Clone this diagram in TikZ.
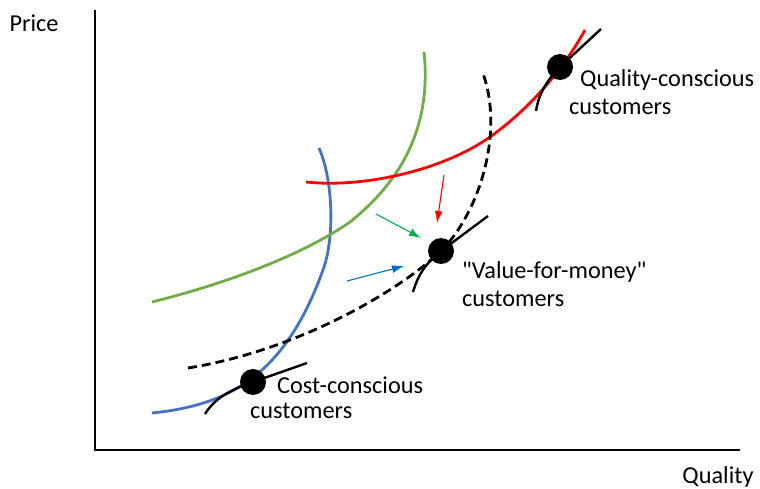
\documentclass[tikz,border=0pt]{standalone}
\usepackage{fontspec}
\setmainfont{Carlito}[Ligatures=TeXOff]
\usetikzlibrary{arrows.meta}
\definecolor{curveblue}{RGB}{68,114,196}
\definecolor{curvegreen}{RGB}{112,173,71}
\definecolor{arrowgreen}{RGB}{0,176,80}
\definecolor{arrowblue}{RGB}{0,112,192}

\begin{document}
\begin{tikzpicture}[x=1pt, y=-1pt, font=\fontsize{24.3}{28}\selectfont, >={Latex[length=12pt,width=8pt]},
  curve/.style={line width=2.8pt},
  touch/.style={black, line width=2.4pt},
  shiftarrow/.style={line width=1.1pt, ->}]
  \useasboundingbox (0,0) rectangle (760,489);
  % axes
  \draw[line width=1.6pt] (95,10) -- (95,450) -- (740,450);
  \node[inner sep=0pt] (price) at (34,23) {Price};
  \node[inner sep=0pt] (quality) at (718,477) {Quality};
  % points on the black curve
  \coordinate (cost) at (253,382);
  \coordinate (value) at (441,251);
  \coordinate (qual) at (560,67);
  % the three segment curves and the dashed one
  \draw[curve, curveblue] (152,413) .. controls (230,405) and (285,375) .. (323,270)
    .. controls (335,237) and (333,180) .. (319,148);
  \draw[curve, curvegreen] (152,302) .. controls (240,280) and (310,250) .. (350,222)
    .. controls (415,170) and (430,110) .. (424,52);
  \draw[curve, red] (306,182) .. controls (360,188) and (440,172) .. (490,137)
    .. controls (525,112) and (560,75) .. (585,30);
  \draw[curve, black, dash pattern=on 9pt off 5pt] (188,368) .. controls (300,350) and (400,290) .. (value)
    .. controls (480,212) and (505,130) .. (482,71);
  % tangents at the three points
  \draw[touch] (205,414) .. controls (215,398) and (230,390) .. (cost) -- (307,363);
  \draw[touch] (413,292) .. controls (418,275) and (425,264) .. (value) -- (488,216);
  \draw[touch] (536,111) .. controls (538,97) and (545,82) .. (qual) -- (601,29);
  \foreach \p in {cost, value, qual}
    {\fill (\p) circle (13pt);}
  % shifts towards value for money
  \coordinate (redtail) at (444,175);
  \coordinate (redhead) at (437,223);
  \coordinate (greentail) at (376,214);
  \coordinate (greenhead) at (421,238);
  \coordinate (bluetail) at (347,281);
  \coordinate (bluehead) at (404,266);
  \draw[shiftarrow, red] (redtail) -- (redhead);
  \draw[shiftarrow, arrowgreen] (greentail) -- (greenhead);
  \draw[shiftarrow, arrowblue] (bluetail) -- (bluehead);
  % labels
  \node[right, inner sep=0pt] (qualtop) at (580,80) {Quality-conscious};
  \node[right, inner sep=0pt] (qualbot) at (569,107) {customers};
  \node[right, inner sep=0pt] (valtop) at (462,272) {"Value-for-money"};
  \node[right, inner sep=0pt] (valbot) at (462,299) {customers};
  \node[right, inner sep=0pt] (costtop) at (277,385) {Cost-conscious};
  \node[right, inner sep=0pt] (costbot) at (250,411) {customers};
\end{tikzpicture}
\end{document}
